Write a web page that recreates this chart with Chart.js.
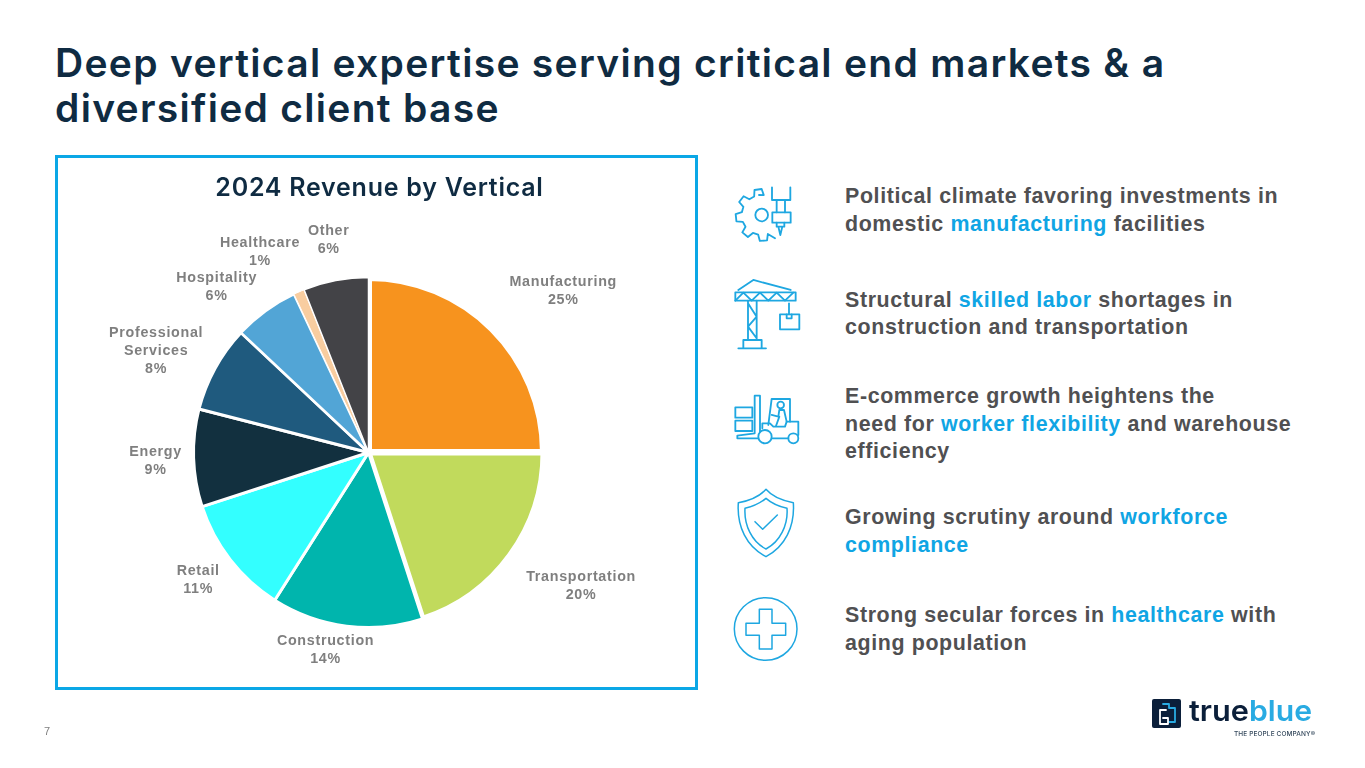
<!DOCTYPE html>
<html>
<head>
<meta charset="utf-8">
<script src="https://cdn.jsdelivr.net/npm/chart.js@4"></script>
<style>
  html, body { margin: 0; padding: 0; background: #fff; }
  #page { position: relative; width: 1365px; height: 768px; overflow: hidden; }
  .title { position: absolute; left: 55px; font: 600 39px/44px Inter, sans-serif; color: #0f2b42; white-space: nowrap; letter-spacing: 1.3px; }
  #chart-title { position: absolute; left: 58px; width: 643px; top: 172px; text-align: center; font: 600 25px/30px Inter, sans-serif; color: #0f2b42; white-space: nowrap; letter-spacing: 0.75px; }
  .line { position: absolute; left: 845px; font: bold 21.4px/28px "Liberation Sans", Arial, sans-serif; color: #505052; white-space: nowrap; letter-spacing: 0.62px; }
  .line b { color: #10a5e4; }
  #box { position: absolute; left: 55px; top: 155px; width: 637px; height: 529px; border: 3px solid #0ba7e6; }
  #box canvas { display: block; }
  #pageno { position: absolute; left: 44px; top: 725px; font: 11px "Liberation Sans", Arial, sans-serif; color: #7f7f7f; }
  #icons { position: absolute; left: 0; top: 0; }
</style>
</head>
<body>
<div id="page">
  <div class="title" style="top:41px">Deep vertical expertise serving critical end markets &amp; a</div>
  <div class="title" style="top:86px">diversified client base</div>

  <div id="box"><canvas id="chart-vertical" width="637" height="529"></canvas></div>
  <div id="chart-title">2024 Revenue by Vertical</div>

  <div class="line" style="top:182px">Political climate favoring investments in</div>
  <div class="line" style="top:210px">domestic <b>manufacturing</b> facilities</div>
  <div class="line" style="top:286px">Structural <b>skilled labor</b> shortages in</div>
  <div class="line" style="top:313px">construction and transportation</div>
  <div class="line" style="top:382px">E-commerce growth heightens the</div>
  <div class="line" style="top:410px">need for <b>worker flexibility</b> and warehouse</div>
  <div class="line" style="top:437px">efficiency</div>
  <div class="line" style="top:503px">Growing scrutiny around <b>workforce</b></div>
  <div class="line" style="top:531px"><b>compliance</b></div>
  <div class="line" style="top:601px">Strong secular forces in <b>healthcare</b> with</div>
  <div class="line" style="top:629px">aging population</div>

  <svg id="icons" width="1365" height="768" fill="none" stroke="#1ea7e1" stroke-linejoin="round" stroke-linecap="round">
    <g transform="translate(720,170) scale(0.3333)" stroke-width="5.5">
      <path id="gear"/>
      <circle cx="125" cy="135" r="19"/>
      <path d="M156 52V90H211V52M170 90V127M195 90V127"/>
      <rect x="157" y="127" width="55" height="31"/>
      <path d="M170 158V170H193V158M175 170L181 195L187 170"/>
      <path d="M55 360L100 330L212 360"/>
      <rect x="46" y="367" width="181" height="25"/>
      <path d="M46 392L70 368L95 392L120 368L145 392L170 368L195 392L220 368"/>
      <path d="M84 392V510M110 392V510M84 400L110 440L84 470L110 505"/>
      <path d="M70 533V510H125V533M55 535H138"/>
      <path d="M207 400V433"/>
      <rect x="180" y="433" width="58" height="45"/>
      <path d="M200 433V445H215V433"/>
      <rect x="46" y="712" width="51" height="31"/>
      <rect x="46" y="752" width="51" height="31"/>
      <path d="M120 785V677H104V790L52 797V805H115"/>
      <path d="M145 765L155 687H210V755"/>
      <path d="M127 775V760H150L160 770H195L200 755H235V795"/>
      <circle cx="135" cy="800" r="20"/>
      <circle cx="220" cy="805" r="15"/>
      <path d="M155 805H205"/>
      <circle cx="182" cy="705" r="10"/>
      <path d="M155 735L175 740L178 720H192L200 755M178 740L168 768"/>
    </g>
    <g transform="translate(720,470) scale(0.3333)" stroke-width="4.5">
      <path d="M138 58C120 78 90 92 55 98C50 170 80 230 138 260C195 230 225 170 220 98C185 92 155 78 138 58Z"/>
      <path d="M138 85C120 100 95 110 75 115C72 165 95 215 138 237C180 215 205 165 201 115C180 110 155 100 138 85Z"/>
      <path d="M105 155L128 178L172 135"/>
      <circle cx="137" cy="477" r="94"/>
      <path d="M118 418H156V460H197V496H156V537H118V496H78V460H118Z"/>
    </g>
    <g stroke="none">
      <rect x="1152" y="699" width="29" height="29" rx="2" fill="#0b1f3a"/>
      <path d="M1163 704H1169V708H1175V722H1169" fill="none" stroke="#29abe2" stroke-width="1.8"/>
      <path d="M1166 710H1160V724H1168V718H1163" fill="none" stroke="#fff" stroke-width="1.8"/>
      <text x="1189" y="721" font-family="Inter, sans-serif" font-weight="600" font-size="29" fill="#0b1f3a" textLength="60" lengthAdjust="spacingAndGlyphs">true</text>
      <text x="1249" y="721" font-family="Inter, sans-serif" font-weight="600" font-size="29" fill="#29abe2" textLength="63" lengthAdjust="spacingAndGlyphs">blue</text>
      <text x="1234" y="736" font-family="Inter, sans-serif" font-weight="500" font-size="6.5" fill="#33475b" textLength="81">THE PEOPLE COMPANY®</text>
    </g>
  </svg>

  <div id="pageno">7</div>
</div>

<script>
var categories = ['Manufacturing', 'Transportation', 'Construction', 'Retail', 'Energy', 'Professional Services', 'Hospitality', 'Healthcare', 'Other'];
var shares = [25, 20, 14, 11, 9, 8, 6, 1, 6];
var sliceColors = ['#f7931e', '#c1da5c', '#00b5ad', '#33ffff', '#12303f', '#1f5a7e', '#52a5d6', '#f8cda0', '#434347'];

// label names split the way the slide breaks them
var labelLines = [['Manufacturing'], ['Transportation'], ['Construction'], ['Retail'], ['Energy'], ['Professional', 'Services'], ['Hospitality'], ['Healthcare'], ['Other']];
// shift of each label from the outer edge of its slice
var labelShift = [[71, -38], [71, 31], [-21, 24], [-32, 20], [-38, 3], [-59, -17], [-49, -24], [-39, -40], [-7, -41]];

// gear outline, open on the side where the spindle sits
function gearPath() {
    var teeth = [98, 142, 186, 230, 274];
    var pts = [[117, 75]];
    teeth.forEach(function (t) {
        [[t - 14, 60], [t - 8, 78], [t + 8, 78], [t + 14, 60]].forEach(function (p) {
            var a = p[0] * Math.PI / 180;
            pts.push([125 + p[1] * Math.cos(a), 135 - p[1] * Math.sin(a)]);
        });
    });
    pts.push([165, 205]);
    return 'M' + pts.map(function (p) { return p[0].toFixed(1) + ' ' + p[1].toFixed(1); }).join('L');
}
document.getElementById('gear').setAttribute('d', gearPath());

var sliceLabels = {
    id: 'sliceLabels',
    afterDatasetsDraw: function (chart) {
        var ctx = chart.ctx;
        ctx.save();
        ctx.font = 'bold 14.3px "Liberation Sans", Arial, sans-serif';
        ctx.letterSpacing = '0.7px';
        ctx.fillStyle = '#7f7f7f';
        ctx.textAlign = 'center';
        ctx.textBaseline = 'middle';
        chart.getDatasetMeta(0).data.forEach(function (arc, i) {
            var mid = (arc.startAngle + arc.endAngle) / 2;
            var x = arc.x + arc.outerRadius * Math.cos(mid) + labelShift[i][0];
            var y = arc.y + arc.outerRadius * Math.sin(mid) + labelShift[i][1];
            var lines = labelLines[i].concat(shares[i] + '%');
            lines.forEach(function (text, n) {
                ctx.fillText(text, x, y + (n - (lines.length - 1) / 2) * 18);
            });
        });
        ctx.restore();
    }
};

new Chart(document.getElementById('chart-vertical'), {
    type: 'pie',
    data: {
        labels: categories,
        datasets: [{
            data: shares,
            backgroundColor: sliceColors,
            borderColor: '#ffffff',
            borderWidth: [7, 6, 3, 3, 3, 3, 2.5, 1, 1.5]
        }]
    },
    options: {
        responsive: false,
        animation: false,
        layout: { padding: { left: 132, right: 148, top: 116, bottom: 56 } },
        plugins: {
            legend: { display: false },
            tooltip: { enabled: false }
        }
    },
    plugins: [sliceLabels]
});
</script>
</body>
</html>
